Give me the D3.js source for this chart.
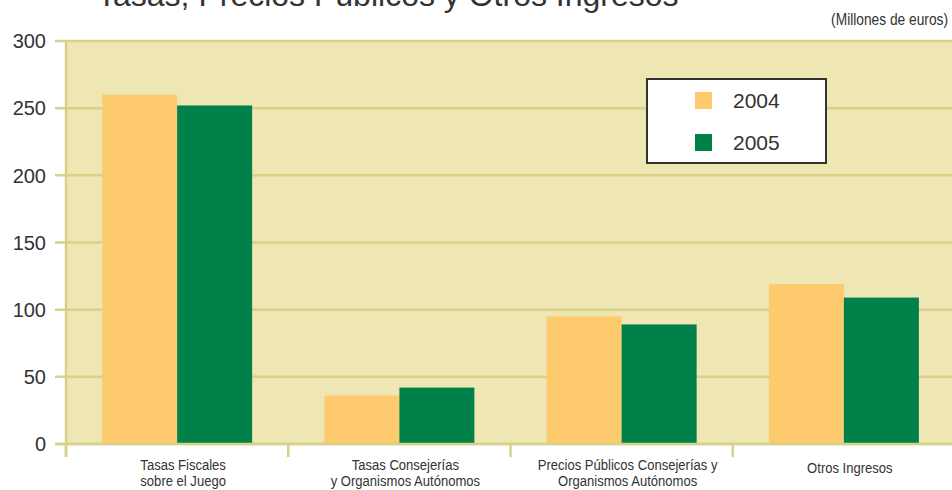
<!DOCTYPE html>
<html>
<head>
<meta charset="utf-8">
<script src="https://cdn.jsdelivr.net/npm/d3@7"></script>
<style>
  html, body { margin: 0; padding: 0; background: #ffffff; }
  svg { display: block; }
</style>
</head>
<body>
<svg id="chart" width="952" height="490"></svg>
<script>
// ---- Data ----
const categories = [
  ["Tasas Fiscales", "sobre el Juego"],
  ["Tasas Consejerías", "y Organismos Autónomos"],
  ["Precios Públicos Consejerías y", "Organismos Autónomos"],
  ["Otros Ingresos"]
];
const seriesNames = ["2004", "2005"];
const values2004 = [260, 36, 95, 119];
const values2005 = [252, 42, 89, 109];
const yTicks = [0, 50, 100, 150, 200, 250, 300];
const titleText = "Tasas, Precios Públicos y Otros Ingresos";
const unitText = "(Millones de euros)";

const colors = { "2004": "#FDCB6E", "2005": "#00814A" };
const gridColor = "#D9D08A";
const plotBg = "#EEE7B4";
const textColor = "#333333";
const narrow = 0.87;

const svg = d3.select("#chart");
const W = 952, H = 490;
const mLeft = 66, mRight = 955, mTop = 41, mBottom = 444;

const catKeys = categories.map((c, i) => "c" + i);
const data = catKeys.map((k, i) => ({ key: k, label: categories[i], vals: { "2004": values2004[i], "2005": values2005[i] } }));

const x = d3.scaleBand().domain(catKeys).range([mLeft, mRight]).paddingInner(0.325).paddingOuter(0.1625);
const x1 = d3.scaleBand().domain(seriesNames).range([0, x.bandwidth()]);
const y = d3.scaleLinear().domain([0, 300]).range([mBottom, mTop]);

// Title (cropped at top, as in the reference)
svg.append("text")
  .attr("x", 97).attr("y", 6)
  .attr("font-family", "'Liberation Sans', Arial, sans-serif")
  .attr("font-size", 32)
  .attr("fill", textColor)
  .text(titleText);

// Units
svg.append("text")
  .attr("transform", "translate(948,25) scale(0.86,1)")
  .attr("text-anchor", "end")
  .attr("font-family", "'Liberation Sans', Arial, sans-serif")
  .attr("font-size", 16)
  .attr("fill", textColor)
  .text(unitText);

// Plot background
svg.append("rect")
  .attr("x", mLeft).attr("y", mTop)
  .attr("width", W - mLeft).attr("height", mBottom - mTop)
  .attr("fill", plotBg);

// Gridlines + y ticks
const gy = svg.append("g");
gy.selectAll("line.grid").data(yTicks).join("line")
  .attr("x1", 55).attr("x2", W)
  .attr("y1", d => y(d)).attr("y2", d => y(d))
  .attr("stroke", gridColor).attr("stroke-width", 2.5);
gy.selectAll("text").data(yTicks).join("text")
  .attr("x", 46).attr("y", d => y(d))
  .attr("dy", "0.36em")
  .attr("text-anchor", "end")
  .attr("font-family", "'Liberation Sans', Arial, sans-serif")
  .attr("font-size", 20)
  .attr("fill", textColor)
  .text(d => d);

// Bars
const groups = svg.append("g").selectAll("g").data(data).join("g")
  .attr("transform", d => `translate(${x(d.key)},0)`);
groups.selectAll("rect").data(d => seriesNames.map(s => ({ s, v: d.vals[s] }))).join("rect")
  .attr("x", d => x1(d.s))
  .attr("width", x1.bandwidth())
  .attr("y", d => y(d.v))
  .attr("height", d => y(0) - y(d.v))
  .attr("fill", d => colors[d.s]);

// Axis lines
svg.append("line")
  .attr("x1", 55).attr("x2", W).attr("y1", mBottom).attr("y2", mBottom)
  .attr("stroke", gridColor).attr("stroke-width", 2.5);
svg.append("line")
  .attr("x1", mLeft).attr("x2", mLeft).attr("y1", mTop - 1).attr("y2", 457)
  .attr("stroke", gridColor).attr("stroke-width", 2.5);

// X tick marks at band boundaries
const step = x.step();
const boundaries = catKeys.map((k) => x(k) - x.paddingOuter() * step);
svg.append("g").selectAll("line").data(boundaries).join("line")
  .attr("x1", d => d).attr("x2", d => d)
  .attr("y1", mBottom).attr("y2", 457)
  .attr("stroke", gridColor).attr("stroke-width", 2.5);

// Category labels
const lab = svg.append("g").selectAll("text").data(data).join("text")
  .attr("text-anchor", "middle")
  .attr("font-family", "'Liberation Sans', Arial, sans-serif")
  .attr("font-size", 15)
  .attr("fill", textColor)
  .attr("transform", d => `translate(${x(d.key) + x.bandwidth() / 2 + 6},0) scale(${narrow},1)`);
lab.each(function(d) {
  const t = d3.select(this);
  const start = d.label.length === 1 ? 473 : 470;
  d.label.forEach((line, i) => {
    t.append("tspan").attr("x", 0).attr("y", start + i * 16).text(line);
  });
});

// Legend
const lg = svg.append("g");
lg.append("rect")
  .attr("x", 647).attr("y", 79).attr("width", 179).attr("height", 84)
  .attr("fill", "#ffffff").attr("stroke", "#333333").attr("stroke-width", 2);
seriesNames.forEach((s, i) => {
  lg.append("rect")
    .attr("x", 695).attr("y", 92 + i * 42).attr("width", 17).attr("height", 17)
    .attr("fill", colors[s]);
  lg.append("text")
    .attr("x", 733).attr("y", 108 + i * 42)
    .attr("font-family", "'Liberation Sans', Arial, sans-serif")
    .attr("font-size", 21)
    .attr("fill", textColor)
    .text(s);
});
</script>
</body>
</html>
